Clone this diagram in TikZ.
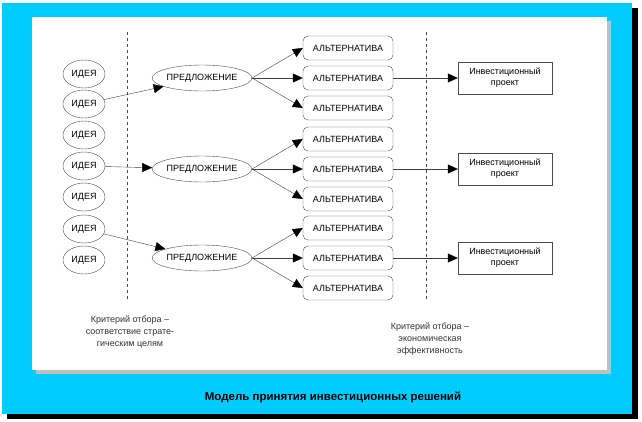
\documentclass[tikz,border=0pt]{standalone}
\usepackage{fontspec}
\setmainfont{Liberation Sans}
\usetikzlibrary{shapes.geometric,arrows.meta}
\definecolor{frame}{RGB}{0,204,255}

\tikzset{
	idea/.style={draw=black!70,ellipse,minimum width=42pt,minimum height=28pt,inner sep=0pt,font=\fontsize{9}{10}\selectfont},
	offer/.style={draw=black!70,ellipse,minimum width=96pt,minimum height=26pt,inner sep=0pt,font=\fontsize{9}{10}\selectfont},
	alt/.style={draw=black!70,rounded corners=5pt,minimum width=90pt,minimum height=24pt,inner sep=0pt,font=\fontsize{9}{10}\selectfont},
	project/.style={draw=black!70,minimum width=94pt,minimum height=32pt,inner sep=0pt,align=center,font=\fontsize{9}{11}\selectfont},
	link/.style={draw=black!75,-{Triangle[length=10pt,width=9pt,color=black]}},
	crit/.style={align=center,font=\fontsize{9}{12}\selectfont,text=black!80}
}

\begin{document}
\begin{tikzpicture}[x=1pt,y=-1pt]
	\useasboundingbox (0,0) rectangle (642,421);
	% frame
	\fill[black] (7,8) rectangle (638,419);
	\fill[frame] (2,3) rectangle (632,414);
	\fill[black!25] (36,21) rectangle (611,374);
	\fill[white] (32,17) rectangle (607,370);
	% criteria lines
	\draw[dashed,black!70] (127,32) -- (127,300);
	\draw[dashed,black!70] (426,32) -- (426,300);
	% ideas
	\foreach \i/\y in {1/74,2/104,3/135,4/166,5/197,6/229,7/260}
		\node[idea] (idea\i) at (84,\y) {ИДЕЯ};
	% proposals, alternatives, projects
	\foreach \p/\y/\src in {1/78/2,2/169/4,3/258/6}{
		\node[offer] (offer\p) at (202,\y) {ПРЕДЛОЖЕНИЕ};
		\node[alt] (alt\p a) at (348,\y-30) {АЛЬТЕРНАТИВА};
		\node[alt] (alt\p b) at (348,\y) {АЛЬТЕРНАТИВА};
		\node[alt] (alt\p c) at (348,\y+30) {АЛЬТЕРНАТИВА};
		\node[project] (proj\p) at (505,\y) {Инвестиционный\\проект};
		\draw[link] (idea\src) -- (offer\p);
		\draw[link] (offer\p.east) -- (alt\p a.west);
		\draw[link] (offer\p.east) -- (alt\p b.west);
		\draw[link] (offer\p.east) -- (alt\p c.west);
		\draw[link] (alt\p b) -- (proj\p);
	}
	% captions
	\node[crit] (critA) at (130,332) {Критерий отбора --\\соответствие страте-\\гическим целям};
	\node[crit] (critB) at (430,339) {Критерий отбора --\\экономическая\\эффективность};
	\node[font=\bfseries\fontsize{11.5}{13}\selectfont] (title) at (333,397) {Модель принятия инвестиционных решений};
\end{tikzpicture}
\end{document}
